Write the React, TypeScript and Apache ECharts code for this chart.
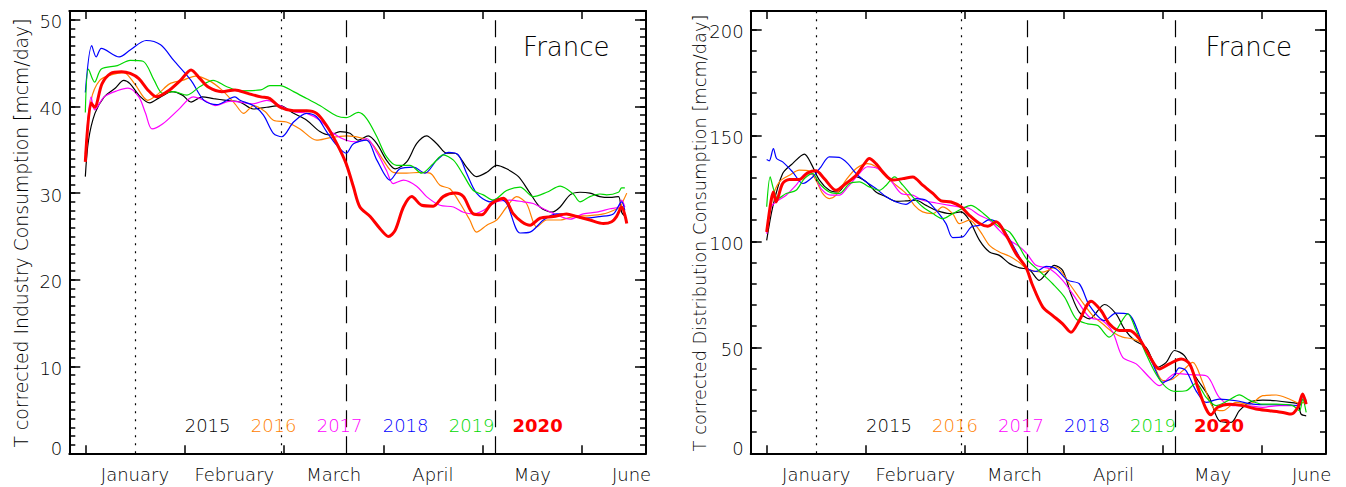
import React, { useEffect, useRef } from "react";
import * as echarts from "echarts";

// ---------- data ----------
const monthNames = ["January", "February", "March", "April", "May", "June"];
const monthLabelDays = [15.5, 46.5, 77.5, 108.5, 139.5, 170.5];
const monthTickDays = [0, 31, 62, 93, 124, 155];
const dottedDays = [15.6, 61.0];
const dashedDays = [81.5, 127.9];
const years = ["2015", "2016", "2017", "2018", "2019", "2020"];
const yearColors = ["#000000", "#ff8000", "#ff00ff", "#0000ff", "#00d800", "#ff0000"];

const indMajorTicks = [0, 10, 20, 30, 40, 50];
const indMinorTicks = Array.from({ length: 52 }, (_, i) => i);
const disMajorTicks = [0, 50, 100, 150, 200];
const disMinorTicks = Array.from({ length: 21 }, (_, i) => i * 10);

const ind2015 = [[0,31.9],[1,36.1],[3,39.2],[5.9,41.1],[9.3,42.1],[12,43.0],[14,42.6],[16.7,41.3],[20.1,40.4],[23.5,41.1],[27,41.7],[30.3,41.3],[33,40.5],[36.5,41.1],[40,40.9],[44,40.7],[48.3,40.5],[52.4,39.7],[56.6,39.9],[60.8,40.1],[65,39.2],[69.1,38.4],[73.2,37.1],[76.4,36.7],[79.5,37.1],[82.6,36.9],[85.2,36.1],[88.3,36.6],[91,35.7],[94,33.8],[96.7,32.8],[100.3,33.6],[103.4,35.7],[106.5,36.6],[109.7,35.7],[112.8,34.6],[115.4,34.6],[119,33.0],[122.1,31.9],[125.3,32.4],[128.4,33.2],[131.5,32.8],[135.2,31.9],[138.8,30.0],[141.9,28.4],[145.6,27.8],[148.2,28.4],[151.3,29.8],[154.4,30.1],[157.5,30.0],[160.6,29.6],[163.7,29.5],[166.4,29.6],[167.4,27.8],[168.5,27.3]];
const ind2016 = [[0,34.5],[1.8,40.7],[4.5,43.0],[8.6,43.7],[12,43.9],[15.4,42.6],[19.5,40.7],[22.9,41.5],[26.3,42.6],[30.3,43.0],[34.4,43.5],[38.5,43.0],[42.6,41.9],[46.7,40.3],[49.4,39.2],[52.6,40.1],[56.1,39.4],[58.7,38.4],[62.8,38.2],[67,37.4],[72.2,36.1],[76.4,36.4],[81.6,36.6],[86.8,36.3],[89.9,35.5],[93,33.8],[96.1,32.4],[100.3,32.3],[104.5,32.4],[107.6,32.3],[110.7,30.9],[113.8,30.5],[117,28.8],[120,26.9],[122.1,25.5],[125.3,26.3],[128.4,26.9],[131.5,28.4],[134.6,29.6],[137.7,28.8],[140.9,26.1],[144,26.9],[148.2,26.9],[152.3,27.3],[157.5,27.4],[161.7,27.6],[164.8,28.0],[166.9,28.4],[168,29.2],[169,30.0]];
const ind2017 = [[0,34.0],[1.8,41.1],[2.9,39.6],[5.9,41.1],[9.9,41.8],[13.3,42.1],[16.7,41.1],[18.8,39.2],[20.8,37.4],[24.2,38.0],[29,39.6],[33.7,41.1],[37.1,40.7],[40.5,40.1],[45.3,40.6],[48.3,40.5],[52.4,40.3],[56.6,40.7],[60.8,40.1],[65,39.4],[69.1,39.2],[73.2,38.4],[77.4,36.9],[81.4,36.1],[84.7,35.9],[87.8,36.3],[91,34.7],[94,32.6],[96.1,31.1],[99.3,31.5],[103.4,30.8],[106.5,29.6],[110.7,28.6],[114.9,28.4],[118,27.8],[121.1,27.6],[124.2,28.0],[128.4,29.0],[132.5,29.2],[136.7,29.0],[139.8,28.8],[143,28.2],[147.1,27.5],[151.3,27.0],[155.4,27.6],[159.6,27.8],[163.8,28.2],[166.4,28.4],[167.4,29.2],[168.4,28.4]];
const ind2018 = [[0,41.6],[2,47.0],[3.4,45.7],[5,46.7],[10.6,45.7],[14,46.5],[19,47.6],[23.5,47.1],[27.6,45.3],[33,43.0],[37,40.7],[41,40.2],[46.7,41.1],[48.3,40.7],[52.4,40.1],[55.6,39.0],[58.7,36.9],[61.3,36.5],[65,38.2],[69.1,39.2],[72.2,38.8],[75.3,37.1],[78.5,35.5],[81.4,34.6],[83.7,35.7],[87.8,36.1],[91,33.8],[95.1,31.5],[98.2,32.8],[102.4,33.0],[106,32.3],[109.7,33.8],[113.3,34.7],[116.4,34.4],[119,32.3],[122.1,30.0],[126.3,29.0],[128.9,29.4],[131.5,28.8],[135.7,25.4],[138.8,25.5],[143,26.9],[147.1,27.6],[151.3,27.5],[155.4,27.1],[160.6,27.3],[164.8,27.6],[167.4,29.0],[168.4,28.0]];
const ind2019 = [[0,39.3],[1,44.3],[2.9,42.8],[5,44.3],[10,44.7],[14,45.3],[18,45.2],[21.5,43.0],[24.2,41.5],[27.6,41.7],[31.7,41.3],[35.8,42.3],[39.9,43.0],[44,42.3],[48.3,41.8],[54.8,41.9],[57.6,42.4],[60.8,42.4],[65,41.7],[69.1,40.9],[73.2,40.1],[78.5,38.9],[81.4,38.7],[85.2,39.3],[87.8,38.6],[91,36.5],[94,34.2],[97.2,33.2],[101.3,33.2],[105,32.3],[108.6,33.4],[111.7,34.4],[114.9,33.8],[118,32.1],[121.1,30.3],[124.2,29.8],[127.3,29.2],[131.5,30.3],[135.7,30.7],[139.8,29.6],[144,30.1],[148.2,30.8],[152.3,29.9],[154.4,29.0],[157.5,29.6],[160.6,29.9],[162.7,29.8],[166.4,30.1],[167.4,30.6],[168.4,30.6]];
const ind2020 = [[0,33.6],[1.8,40.4],[2.9,39.9],[5.2,42.6],[7.9,43.8],[11.3,44.0],[14,43.8],[16.7,43.2],[19.5,41.9],[22.2,41.1],[26.3,41.9],[29.7,43.0],[33,44.2],[35.8,43.2],[38.5,42.2],[42.6,41.7],[46.7,41.9],[50.7,41.5],[54.8,41.1],[57.6,40.9],[60.8,39.9],[65,39.5],[69.1,39.5],[72.2,39.2],[75.3,37.8],[78.5,35.7],[81.4,33.4],[83.7,30.7],[85.7,28.4],[88.9,27.3],[92,25.9],[94.6,25.0],[96.7,25.7],[99.3,28.4],[101.9,29.6],[105,28.6],[108.6,28.5],[111.7,29.6],[115.4,30.0],[118,29.6],[121.1,27.6],[123.7,27.5],[126.8,28.8],[130.5,29.4],[133.6,27.6],[136.2,26.7],[138.8,26.3],[141.9,27.1],[146.1,27.3],[150.2,27.6],[153.4,27.3],[157.5,26.9],[161.7,26.5],[164.3,26.7],[165.8,27.3],[167.4,28.4],[169,26.5]];

const dis2015 = [[0,100.5],[1.9,116.3],[5,132],[8.1,136.7],[11.8,141.2],[13.9,136.7],[16.5,128.9],[19.6,124.1],[22.2,123.3],[24.8,127.3],[28,130.4],[31.1,128.1],[34.2,123.3],[37.4,121.0],[40.5,118.9],[43.6,119.1],[46.7,119.4],[49.9,117.0],[53,114.7],[57.2,113.1],[60.8,113.9],[63.4,110.0],[66.6,100.5],[69.7,95.0],[72.8,93.4],[76,89.5],[79.1,87.5],[82.2,86.6],[85.3,81.6],[87.4,84.7],[90,88.7],[92.6,86.3],[95.2,75.2],[97.8,66.6],[101,63.4],[105.7,70.2],[109.3,65.8],[111.9,58.7],[115.1,53.2],[118.7,50.0],[122.4,40.6],[125,42.9],[127.6,48.5],[130.7,46.1],[134.3,35.9],[138.5,26.4],[141.6,15.4],[145.3,14.6],[147.9,20.1],[151,24.0],[155.2,25.1],[159.4,24.8],[163.5,24.0],[166.2,23.2],[167.2,18.5],[168.8,17.7]];
const dis2016 = [[0,105.2],[1.9,121],[4,128.1],[7.1,131.2],[10.2,133.6],[13.4,133.1],[15.4,128.9],[17.5,122.6],[19.6,120.2],[21.7,121.8],[24.8,128.9],[28,134.4],[31.6,136.7],[34.2,135.2],[37.4,130.4],[40.5,126.5],[43.6,122.6],[46.2,117.0],[48.8,113.9],[52,113.1],[55.1,116.3],[58.2,113.1],[60.3,108.4],[63.4,110.0],[66.6,105.2],[69.7,98.1],[72.8,95.0],[76,93],[79.1,90],[81.4,87.1],[86.4,85.5],[90.5,87.9],[94.7,80.0],[98.4,72.1],[102,65.0],[105.1,61.1],[108.3,57.1],[111.4,54.8],[114.5,54.0],[117.7,51.6],[120.8,42.9],[124,34.3],[127.1,35.1],[130.2,39.0],[133.3,42.9],[136.4,33.5],[139.6,21.7],[142.7,20.1],[146.9,24.0],[151,23.2],[155.2,27.2],[159.4,27.5],[163.5,25.6],[166.7,23.6],[168.2,24.0]];
const dis2017 = [[0,103.6],[1.4,116.3],[2.9,118.6],[6.1,121.8],[9.2,126.5],[12.3,132.0],[14.9,131.2],[17,124.9],[20.1,121.8],[22.7,121.8],[25.4,125.7],[28.5,131.2],[31.6,135.2],[34.7,134.4],[38.4,129.6],[42.1,122.6],[45.7,121.8],[48.8,119.4],[53,118.1],[57.2,117.0],[60.3,116.3],[63.4,115.5],[66.6,112.3],[69.7,110.0],[72.8,105.2],[76,100.5],[79,97.6],[81.4,94.2],[84.3,88.7],[88.5,87.1],[92.6,81.6],[96.8,72.9],[101,64.2],[105.1,62.6],[108.3,57.1],[111.4,45.3],[115.6,42.2],[119.7,35.9],[122.9,31.9],[126,35.9],[128.1,37.7],[132.3,37.1],[137.5,36.6],[141.6,26.4],[145.8,22.5],[150,22.5],[155.2,21.7],[160.4,22.5],[165.6,22.5],[167.7,25.6],[168.8,23.2]];
const dis2018 = [[0,138.6],[0.8,138],[2.1,143.8],[3.1,139.1],[5,137.5],[8.1,132.8],[11.3,127.3],[14.4,130.4],[17,135.2],[19.6,139.9],[22.7,139.6],[25.4,136.7],[28,132.0],[31.1,128.1],[34.2,124.9],[37.4,121.0],[40.5,118.6],[43.6,117.5],[46.7,120.2],[49.9,119.4],[53,114.7],[56.1,108.4],[58.2,101.8],[61.3,102.1],[64,106.8],[66.6,107.6],[69.7,110.3],[72.8,108.4],[76,101],[79.1,92.6],[81.4,87.5],[84.3,85.8],[87.4,88.2],[90.5,87.1],[94.2,81.6],[97.8,80.0],[101,69.7],[105.7,62.6],[109.3,66.1],[113,65.8],[117.7,51.6],[120.8,42.2],[124,33.5],[127.1,35.9],[129.1,40.3],[131.2,39.0],[134.3,29.6],[137.5,24.0],[141.6,25.6],[146.9,24.8],[152.1,23.2],[157.3,22.9],[162.5,22.9],[166.7,22.5],[167.7,27.2],[168.8,24.8]];
const dis2019 = [[0,116.3],[1.1,130.4],[2.1,124.9],[3.5,120.2],[6.1,122.6],[9.2,124.1],[11.8,129.6],[14.4,132],[16.5,127.3],[19.6,123.3],[22.7,122.6],[25.9,127.3],[29,128.1],[32.1,125.7],[35.3,124.1],[37.4,126.5],[40,130.4],[42.6,126.5],[45.7,121.0],[48.8,116.3],[52,113.1],[55.1,110.7],[58.2,113.1],[61.3,115.5],[63.9,117.0],[66.6,114.7],[69.7,110.7],[72.8,106.8],[76,104.4],[79.1,97.3],[81.4,91.5],[85.3,86],[89.5,80.0],[93.2,73.7],[96.8,63.4],[100.4,61.1],[103.6,60.3],[107.2,54.8],[109.3,57.9],[113,65.8],[115.6,57.9],[118.7,46.9],[121.8,37.4],[125,31.1],[128.1,29.2],[131.2,29.5],[134.3,33.0],[137.5,26.4],[140.6,22.5],[144.3,24.8],[147.9,27.6],[151,25.1],[155.2,23.2],[159.4,23.2],[164.6,22.5],[166.7,20.1],[167.7,25.6],[168.8,19.3]];
const dis2020 = [[0,104.4],[1.4,119.4],[2.1,123.3],[2.9,118.6],[5,127.3],[7.1,129.2],[10.2,129.2],[12.8,132.3],[15.4,133.3],[18,129.6],[21.7,124.1],[24.8,127.3],[28,131.2],[30.6,136.7],[32.1,139.1],[34.2,136.7],[36.3,132.8],[39.4,128.9],[42.6,129.6],[45.7,130.4],[48.8,126.5],[52,122.6],[54.6,119.1],[57.7,118.6],[60.8,116.3],[63.4,112.3],[66.6,108.4],[69.2,107.1],[71.8,109.2],[74.9,102.9],[78,94.2],[81.2,87.5],[83,80],[86.4,69],[89.5,65.0],[92.6,61.1],[95.2,57.1],[97.8,62.6],[101.5,71.8],[104.6,67.4],[107.2,61.1],[110.4,57.9],[113.5,57.9],[116.6,54.0],[119.7,46.1],[122.9,39.8],[126,42.2],[129.7,44.5],[132.3,42.2],[134.9,31.1],[137.5,20.9],[139,18.2],[141.1,21.7],[144.8,23.2],[149,22.5],[153.1,20.9],[157.3,20.1],[161.5,19.3],[164.1,18.5],[166.2,21.7],[167.7,28.0],[168.8,23.2]];

const industrySeries = [ind2015, ind2016, ind2017, ind2018, ind2019, ind2020];
const distributionSeries = [dis2015, dis2016, dis2017, dis2018, dis2019, dis2020];
const panelTitles = [
  "T corrected Industry Consumption [mcm/day]",
  "T corrected Distribution Consumption [mcm/day]",
];
const countryName = "France";

// ---------- layout / style ----------
const W = 1346;
const H = 487;
const FONT = "DejaVu Sans";
const TXT = "#000";
const panels = [
  { left: 69.3, right: 646, top: 11, bottom: 453.3, yMax: 51, titleX: 21, titleSize: 18.8, majors: indMajorTicks, minors: indMinorTicks, data: industrySeries },
  { left: 750.7, right: 1326, top: 11, bottom: 453.3, yMax: 208.7, titleX: 699, titleSize: 17.8, majors: disMajorTicks, minors: disMinorTicks, data: distributionSeries },
];

function buildOption() {
  const grid: any[] = [];
  const xAxis: any[] = [];
  const yAxis: any[] = [];
  const series: any[] = [];
  const graphic: any[] = [];
  const axisLineStyle = { color: "#000", width: 2 };
  const tickStyle = { color: "#000", width: 1.5 };

  panels.forEach((p, pi) => {
    grid.push({ left: p.left, top: p.top, width: p.right - p.left, height: p.bottom - p.top, containLabel: false });
    const xBase = {
      gridIndex: pi, type: "value", min: -5, max: 175,
      axisLine: { show: true, onZero: false, lineStyle: axisLineStyle },
      splitLine: { show: false },
    };
    xAxis.push({
      ...xBase, position: "bottom",
      axisTick: { show: true, inside: true, length: 8, customValues: monthTickDays, lineStyle: tickStyle },
      axisLabel: {
        show: true, customValues: monthLabelDays, margin: 12,
        fontFamily: FONT, fontSize: 18, fontWeight: 200, color: TXT,
        formatter: (v: number) => monthNames[monthLabelDays.indexOf(v)] ?? "",
      },
    });
    xAxis.push({
      ...xBase, position: "top",
      axisTick: { show: true, inside: true, length: 8, customValues: monthTickDays, lineStyle: tickStyle },
      axisLabel: { show: false },
    });
    const yBase = {
      gridIndex: pi, type: "value", min: 0, max: p.yMax,
      splitLine: { show: false },
    };
    yAxis.push({
      ...yBase, position: "left",
      axisLine: { show: true, onZero: false, lineStyle: axisLineStyle },
      axisTick: { show: true, inside: true, length: 11, customValues: p.majors, lineStyle: tickStyle },
      axisLabel: {
        show: true, customValues: p.majors, margin: 7,
        fontFamily: FONT, fontSize: 18, fontWeight: 200, color: TXT,
        formatter: (v: number) => (v === 0 ? "{z|0}" : "{n|" + v + "}"),
        rich: {
          z: { fontFamily: FONT, fontSize: 18, fontWeight: 200, color: TXT, padding: [0, 0, 10, 0] },
          n: { fontFamily: FONT, fontSize: 18, fontWeight: 200, color: TXT, padding: [4, 0, 0, 0] },
        },
      },
    });
    yAxis.push({
      ...yBase, position: "left",
      axisLine: { show: false, onZero: false },
      axisTick: { show: true, inside: true, length: 6, customValues: p.minors, lineStyle: tickStyle },
      axisLabel: { show: false },
    });
    yAxis.push({
      ...yBase, position: "right",
      axisLine: { show: true, onZero: false, lineStyle: axisLineStyle },
      axisTick: { show: true, inside: true, length: 11, customValues: p.majors, lineStyle: tickStyle },
      axisLabel: { show: false },
    });
    yAxis.push({
      ...yBase, position: "right",
      axisLine: { show: false, onZero: false },
      axisTick: { show: true, inside: true, length: 6, customValues: p.minors, lineStyle: tickStyle },
      axisLabel: { show: false },
    });

    p.data.forEach((d, si) => {
      const isLast = si === p.data.length - 1;
      const s: any = {
        type: "line",
        name: years[si] + "-" + pi,
        xAxisIndex: pi * 2,
        yAxisIndex: pi * 4,
        data: d,
        showSymbol: false,
        symbol: "none",
        smooth: 0.3,
        z: 2 + si,
        lineStyle: { color: yearColors[si], width: isLast ? 3 : 1.2 },
      };
      if (si === 0) {
        s.markLine = {
          silent: true,
          symbol: ["none", "none"],
          label: { show: false },
          data: [
            ...dottedDays.map((x) => ({ xAxis: x, lineStyle: { color: "#000", width: 1.2, type: [2, 6] } })),
            ...dashedDays.map((x) => ({ xAxis: x, lineStyle: { color: "#000", width: 1.2, type: [17, 9] } })),
          ],
        };
      }
      series.push(s);
    });

    years.forEach((y, yi) => {
      graphic.push({
        type: "text",
        x: p.left + 138.3 + yi * 66,
        y: 425,
        style: {
          text: y, fill: yearColors[yi], fontFamily: FONT, fontSize: 18,
          fontWeight: yi === years.length - 1 ? "bold" : 200,
          align: "center", verticalAlign: "middle",
        },
        z: 10,
      });
    });
    graphic.push({
      type: "text",
      x: p.left + (pi === 0 ? 497 : 498),
      y: 47,
      style: { text: countryName, fill: "#000", fontFamily: FONT, fontSize: 26, fontWeight: 200, align: "center", verticalAlign: "middle" },
      z: 10,
    });
    graphic.push({
      type: "text",
      x: p.titleX,
      y: 233,
      rotation: Math.PI / 2,
      style: { text: panelTitles[pi], fill: TXT, fontFamily: FONT, fontSize: p.titleSize, fontWeight: 200, align: "center", verticalAlign: "middle" },
      z: 10,
    });
  });

  return {
    animation: false,
    backgroundColor: "#ffffff",
    grid, xAxis, yAxis, series, graphic,
  };
}

export default function App() {
  const ref = useRef<HTMLDivElement>(null);
  useEffect(() => {
    if (!ref.current) return;
    const chart = echarts.init(ref.current, undefined, { renderer: "svg", width: W, height: H });
    chart.setOption(buildOption() as any);
    return () => chart.dispose();
  }, []);
  return (
    <div
      ref={ref}
      style={{ position: "fixed", left: 0, top: 0, width: W, height: H, background: "#fff" }}
    />
  );
}
